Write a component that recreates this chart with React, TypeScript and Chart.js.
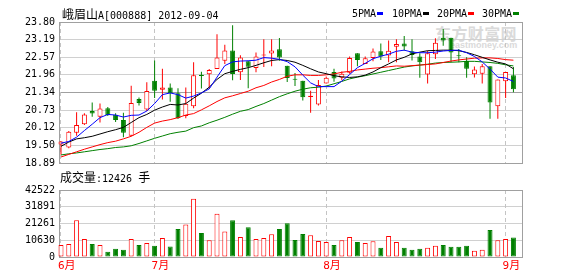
import React, { useEffect, useRef } from "react";
import { Chart, registerables } from "chart.js";

Chart.register(...registerables);

// ---------- data ----------
const stockTitle = "峨眉山A[000888] 2012-09-04";
const monthLabels = ["6月", "7月", "8月", "9月"];
const monthIndex = [0, 12, 34, 57];

const opens = [
  19.53, 19.43, 19.94, 20.24, 20.7, 20.5, 20.8, 20.57, 20.39, 19.84,
  21.12, 20.75, 21.75, 21.44, 21.52, 21.32, 20.53, 20.87, 21.96, 21.98,
  22.16, 22.45, 22.81, 22.05, 22.43, 22.2, 22.63, 22.7, 22.85, 22.28,
  21.82, 21.75, 21.19, 20.93, 21.66, 22.06, 21.86, 22.03, 22.71, 22.34,
  22.55, 22.78, 22.63, 22.94, 23.05, 22.78, 22.6, 21.97, 22.68, 23.25,
  23.25, 22.64, 22.44, 21.98, 22.0, 22.26, 20.87, 21.74, 21.95,
];
const closes = [
  19.64, 19.98, 20.21, 20.58, 20.61, 20.79, 20.56, 20.39, 19.94, 20.98,
  20.98, 21.4, 21.41, 21.52, 21.32, 20.45, 20.95, 21.95, 21.92, 22.13,
  22.56, 22.81, 21.99, 22.56, 22.24, 22.6, 22.67, 22.81, 22.56, 21.85,
  21.79, 21.18, 21.23, 21.61, 21.86, 21.83, 22.0, 22.55, 22.48, 22.54,
  22.77, 22.6, 22.8, 23.03, 22.95, 22.65, 22.4, 22.71, 23.08, 23.16,
  22.74, 22.61, 22.17, 22.15, 22.26, 21.0, 21.8, 22.06, 21.46,
];
const highs = [
  19.66, 20.0, 20.66, 20.62, 21.0, 20.96, 20.84, 20.62, 20.64, 21.58,
  21.17, 21.7, 22.46, 22.17, 21.66, 21.49, 21.52, 22.4, 22.07, 22.16,
  23.37, 23.01, 23.69, 22.64, 22.45, 22.74, 23.2, 23.2, 23.24, 22.28,
  22.02, 21.75, 21.41, 21.78, 21.9, 22.17, 22.08, 22.6, 22.71, 22.6,
  22.88, 23.05, 23.16, 23.2, 23.31, 23.2, 22.71, 22.8, 23.23, 23.56,
  23.25, 22.86, 22.57, 22.25, 22.34, 22.26, 21.8, 22.06, 22.23,
];
const lows = [
  19.18, 19.4, 19.84, 20.21, 20.5, 20.3, 20.53, 20.32, 19.79, 19.82,
  20.89, 20.7, 21.15, 21.1, 21.02, 20.42, 20.45, 20.8, 21.48, 21.48,
  22.16, 22.34, 21.77, 21.78, 21.49, 22.05, 22.23, 22.26, 22.45, 21.71,
  21.57, 21.07, 20.64, 20.89, 21.66, 21.72, 21.77, 22.0, 22.26, 22.34,
  22.43, 22.48, 22.4, 22.4, 22.8, 22.46, 21.86, 21.66, 22.51, 22.97,
  22.4, 22.4, 21.86, 21.87, 21.66, 20.43, 20.43, 21.15, 21.35,
];
const volumes = [
  7690, 8320, 23330, 11440, 8320, 7690, 3310, 5190, 4560, 11440,
  7690, 8940, 7070, 12070, 6630, 17700, 20640, 36900, 15200, 10630,
  27510, 16260, 23330, 12690, 18950, 11440, 12070, 14380, 17700, 21450,
  10820, 14570, 13760, 10190, 9570, 7690, 10630, 12690, 9570, 8940,
  10000, 5820, 13320, 9570, 5820, 4560, 5190, 5820, 7070, 7690,
  6440, 6440, 7070, 3940, 4560, 17070, 10630, 11440, 12426,
];
const ma5 = [
  19.58, 19.64, 19.79, 20.02, 20.24, 20.47, 20.58, 20.56, 20.49, 20.55,
  20.56, 20.7, 20.96, 21.27, 21.33, 21.27, 21.15, 21.22, 21.33, 21.47,
  21.88, 22.28, 22.41, 22.44, 22.45, 22.47, 22.56, 22.54, 22.5, 22.42,
  22.24, 21.95, 21.68, 21.55, 21.55, 21.55, 21.74, 21.97, 22.21, 22.36,
  22.52, 22.61, 22.68, 22.78, 22.82, 22.75, 22.73, 22.73, 22.75, 22.79,
  22.81, 22.82, 22.73, 22.6, 22.41, 22.16, 21.88, 21.85, 21.73,
];
const ma10 = [
  19.47, 19.62, 19.73, 19.77, 19.82, 19.9, 19.98, 20.05, 20.13, 20.3,
  20.47, 20.58, 20.73, 20.84, 20.93, 20.91, 20.96, 21.15, 21.32, 21.53,
  21.8, 22.0, 22.08, 22.15, 22.21, 22.29, 22.38, 22.46, 22.49, 22.46,
  22.4, 22.29, 22.17, 22.06, 22.0, 21.93, 21.89, 21.87, 21.89, 21.95,
  22.06, 22.21, 22.34, 22.48, 22.57, 22.69, 22.75, 22.8, 22.81, 22.82,
  22.82, 22.8, 22.74, 22.66, 22.57, 22.48, 22.4, 22.34, 22.17,
];
const ma20 = [
  19.1, 19.19, 19.28, 19.37, 19.45, 19.53, 19.6, 19.65, 19.73, 19.82,
  19.96, 20.13, 20.28, 20.35, 20.4, 20.47, 20.56, 20.61, 20.74, 20.88,
  21.03, 21.16, 21.23, 21.31, 21.39, 21.51, 21.59, 21.71, 21.8, 21.91,
  21.96, 21.96, 21.94, 21.94, 21.96, 21.99, 22.05, 22.08, 22.13, 22.16,
  22.19, 22.21, 22.24, 22.27, 22.26, 22.28, 22.3, 22.32, 22.34, 22.39,
  22.44, 22.48, 22.51, 22.54, 22.55, 22.55, 22.53, 22.49, 22.47,
];
const ma30 = [
  19.17, 19.21, 19.24, 19.28, 19.32, 19.36, 19.39, 19.43, 19.45, 19.49,
  19.57, 19.66, 19.75, 19.83, 19.91, 19.96, 20.0, 20.12, 20.18, 20.29,
  20.38, 20.48, 20.59, 20.69, 20.75, 20.86, 20.96, 21.08, 21.2, 21.3,
  21.39, 21.46, 21.51, 21.53, 21.57, 21.65, 21.73, 21.82, 21.88, 21.93,
  21.99, 22.05, 22.11, 22.17, 22.23, 22.27, 22.3, 22.33, 22.37, 22.39,
  22.4, 22.41, 22.43, 22.43, 22.41, 22.39, 22.36, 22.31, 22.27,
];
const priceTicks = [18.89, 19.5, 20.12, 20.73, 21.34, 21.96, 22.57, 23.19, 23.8];
const volumeTicks = [0, 10630, 21261, 31891, 42522];
const maSeries = [
  { label: "5PMA", values: ma5, color: "#0000ff" },
  { label: "10PMA", values: ma10, color: "#000000" },
  { label: "20PMA", values: ma20, color: "#ff0000" },
  { label: "30PMA", values: ma30, color: "#008000" },
];

// ---------- styling ----------
const RED = "#ff0000";
const GREEN = "#008000";
const MONO = "'DejaVu Sans Mono', 'Liberation Mono', monospace";
const CJK = "'Noto Sans CJK SC', sans-serif";
const X_MIN = -0.256;
const X_MAX = 59.1;

const framePlugin = {
  id: "frameAndMonths",
  beforeDatasetsDraw(chart: any) {
    const { ctx, chartArea: a, scales } = chart;
    ctx.save();
    ctx.lineWidth = 1;
    ctx.strokeStyle = "#c4c4c4";
    ctx.setLineDash([4, 3]);
    monthIndex.forEach((m) => {
      const x = Math.floor(scales.x.getPixelForValue(m)) + 0.5;
      ctx.beginPath();
      ctx.moveTo(x, a.top);
      ctx.lineTo(x, a.bottom);
      ctx.stroke();
    });
    ctx.setLineDash([]);
    ctx.strokeStyle = "#a0a0a0";
    ctx.strokeRect(
      Math.round(a.left) + 0.5,
      Math.round(a.top) + 0.5,
      Math.round(a.right - a.left),
      Math.round(a.bottom - a.top)
    );
    ctx.restore();
  },
};

export default function App() {
  const mainRef = useRef<HTMLCanvasElement>(null);
  const volRef = useRef<HTMLCanvasElement>(null);

  useEffect(() => {
    const idx = opens.map((_, i) => i);
    const up = idx.map((i) => closes[i] >= opens[i]);
    const col = up.map((u) => (u ? RED : GREEN));
    const fill = up.map((u) => (u ? "#ffffff" : GREEN));

    const yAxisCommon = {
      afterFit: (s: any) => {
        s.width = 59;
      },
      ticks: {
        color: "#000",
        padding: 4,
        font: { family: MONO, size: 10 },
      },
      border: { display: false },
    };

    const main = new Chart(mainRef.current as HTMLCanvasElement, {
      type: "bar",
      data: {
        datasets: [
          ...maSeries.map((s) => ({
            type: "line" as const,
            label: s.label,
            data: s.values.map((v, i) => ({ x: i, y: v })),
            borderColor: s.color,
            borderWidth: 1,
            pointRadius: 0,
            tension: 0,
            order: 0,
          })),
          {
            type: "bar" as const,
            label: "body",
            data: idx.map((i) => ({ x: i, y: [opens[i], closes[i]] })),
            backgroundColor: fill,
            borderColor: col,
            borderWidth: 1,
            borderSkipped: false,
            barThickness: 5,
            grouped: false,
            inflateAmount: 0,
            order: 2,
            clip: 6,
          },
          {
            type: "bar" as const,
            label: "wick",
            data: idx.map((i) => ({ x: i, y: [lows[i], highs[i]] })),
            backgroundColor: col,
            borderWidth: 0,
            barThickness: 1,
            grouped: false,
            inflateAmount: 0,
            order: 3,
            clip: 6,
          },
        ] as any,
      },
      options: {
        animation: false,
        responsive: false,
        events: [],
        layout: { padding: { left: 0, right: 56, top: 22, bottom: 7 } },
        plugins: { legend: { display: false }, tooltip: { enabled: false } },
        scales: {
          x: {
            type: "linear",
            min: X_MIN,
            max: X_MAX,
            offset: false,
            display: false,
            grid: { display: false, offset: false },
          },
          y: {
            ...yAxisCommon,
            min: priceTicks[0],
            max: priceTicks[priceTicks.length - 1],
            afterBuildTicks: (s: any) => {
              s.ticks = priceTicks.map((v) => ({ value: v }));
            },
            ticks: {
              ...yAxisCommon.ticks,
              callback: (v: any) => Number(v).toFixed(2),
            },
            grid: {
              drawTicks: false,
              color: (c: any) => (c.index === 4 ? "#a0a0a0" : "#d0d0d0"),
            },
          },
        },
      } as any,
      plugins: [framePlugin],
    });

    const vol = new Chart(volRef.current as HTMLCanvasElement, {
      type: "bar",
      data: {
        datasets: [
          {
            label: "成交量",
            data: idx.map((i) => ({ x: i, y: volumes[i] })),
            backgroundColor: fill,
            borderColor: col,
            borderWidth: 1,
            borderSkipped: false,
            barThickness: 5,
            grouped: false,
            inflateAmount: 0,
            clip: 6,
          },
        ] as any,
      },
      options: {
        animation: false,
        responsive: false,
        events: [],
        layout: { padding: { left: 0, right: 56, top: 9, bottom: 0 } },
        plugins: { legend: { display: false }, tooltip: { enabled: false } },
        scales: {
          x: {
            type: "linear",
            min: X_MIN,
            max: X_MAX,
            offset: false,
            afterFit: (s: any) => {
              s.height = 19;
            },
            afterBuildTicks: (s: any) => {
              s.ticks = monthIndex.map((v) => ({ value: v }));
            },
            grid: { display: false, drawTicks: false, offset: false },
            border: { display: false },
            ticks: {
              autoSkip: false,
              maxRotation: 0,
              align: "start",
              labelOffset: -3,
              padding: 3,
              color: RED,
              font: { family: MONO + ", " + CJK, size: 11 },
              callback: (_v: any, i: number) => monthLabels[i],
            },
          },
          y: {
            ...yAxisCommon,
            min: volumeTicks[0],
            max: volumeTicks[volumeTicks.length - 1],
            afterBuildTicks: (s: any) => {
              s.ticks = volumeTicks.map((v) => ({ value: v }));
            },
            ticks: {
              ...yAxisCommon.ticks,
              callback: (v: any) => String(v),
            },
            grid: { drawTicks: false, color: "#d0d0d0" },
          },
        },
      } as any,
      plugins: [framePlugin],
    });

    return () => {
      main.destroy();
      vol.destroy();
    };
  }, []);

  const cjkSpan = (t: string) => (
    <span style={{ fontFamily: CJK, fontSize: 12 }}>{t}</span>
  );
  const monoSpan = (t: string) => (
    <span style={{ fontFamily: MONO, fontSize: 10 }}>{t}</span>
  );
  const legendLeft = [352, 392, 437, 482];

  return (
    <div
      style={{
        position: "fixed",
        left: 0,
        top: 0,
        width: 578,
        height: 276,
        background: "#ffffff",
        overflow: "hidden",
        color: "#000",
      }}
    >
      {/* watermark (behind the chart) */}
      <div
        style={{
          position: "absolute",
          left: 435,
          top: 25,
          fontFamily: CJK,
          fontWeight: 700,
          fontSize: 16,
          lineHeight: "16px",
          letterSpacing: 0.4,
          color: "#dadada",
          whiteSpace: "nowrap",
        }}
      >
        东方财富网
      </div>
      <div
        style={{
          position: "absolute",
          left: 450,
          top: 41,
          fontFamily: "'Liberation Sans', Arial, sans-serif",
          fontWeight: 700,
          fontSize: 9,
          lineHeight: "9px",
          color: "#dadada",
          whiteSpace: "nowrap",
        }}
      >
        eastmoney.com
      </div>

      <canvas
        ref={mainRef}
        width={578}
        height={173}
        style={{ position: "absolute", left: 0, top: 0 }}
      />
      <canvas
        ref={volRef}
        width={578}
        height={96}
        style={{ position: "absolute", left: 0, top: 180 }}
      />

      {/* title */}
      <div
        style={{
          position: "absolute",
          left: 62,
          top: 8,
          lineHeight: "12px",
          whiteSpace: "nowrap",
        }}
      >
        {cjkSpan(stockTitle.slice(0, 3))}
        {monoSpan(stockTitle.slice(3))}
      </div>

      {/* legend */}
      {maSeries.map((s, k) => (
        <React.Fragment key={s.label}>
          <div
            style={{
              position: "absolute",
              left: legendLeft[k],
              top: 8,
              lineHeight: "12px",
              fontFamily: MONO,
              fontSize: 10,
              whiteSpace: "nowrap",
            }}
          >
            {s.label}
          </div>
          <div
            style={{
              position: "absolute",
              left: legendLeft[k] + s.label.length * 6 + 1,
              top: 12,
              width: 6,
              height: 3,
              background: s.color,
            }}
          />
        </React.Fragment>
      ))}

      {/* volume caption */}
      <div
        style={{
          position: "absolute",
          left: 60,
          top: 171,
          lineHeight: "12px",
          whiteSpace: "nowrap",
        }}
      >
        {cjkSpan("成交量")}
        {monoSpan(":" + volumes[volumes.length - 1] + "\u00a0")}
        {cjkSpan("手")}
      </div>
    </div>
  );
}
